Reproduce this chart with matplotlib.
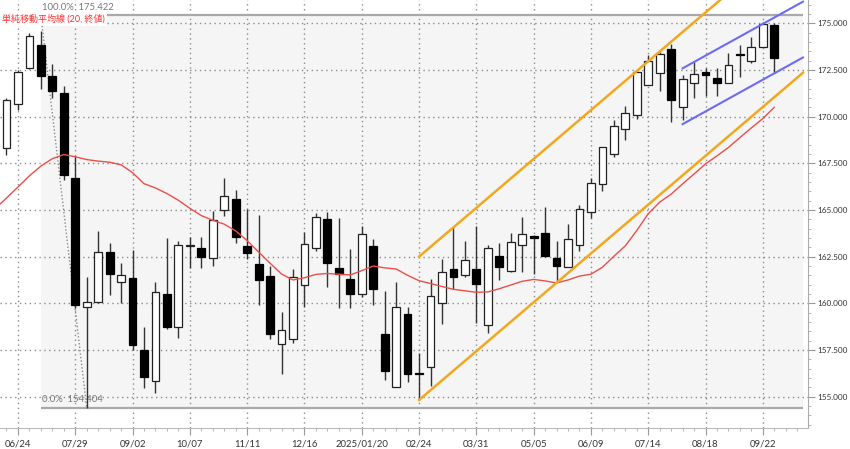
import numpy as np
import pandas as pd
import matplotlib
matplotlib.use('Agg')
import matplotlib.pyplot as plt
from matplotlib.ticker import MultipleLocator, FormatStrFormatter, FixedLocator

plt.rcParams['font.family'] = ['Lato', 'Noto Sans CJK JP', 'DejaVu Sans']

# weekly candles, week of 2024/06/17 .. 2025/09/29
weeks = pd.date_range('2024-06-17', periods=68, freq='W-MON')
opens = [168.34, 170.68, 172.62, 173.84, 172.18, 171.25, 166.70, 159.82, 160.09, 162.77,
         161.16, 161.34, 157.50, 155.84, 160.50, 158.72, 163.05, 162.95, 162.41, 165.00,
         165.57, 163.09, 162.09, 161.48, 157.82, 158.11, 160.98, 162.95, 164.50, 161.88,
         161.32, 160.48, 163.09, 158.34, 155.54, 159.43, 156.25, 156.58, 160.00, 161.82,
         161.52, 161.82, 158.84, 162.54, 161.75, 163.11, 163.60, 163.79, 162.41, 161.93,
         163.13, 164.91, 166.38, 168.00, 169.32, 170.09, 171.70, 172.36, 173.62, 170.53,
         171.82, 172.38, 172.09, 171.79, 173.34, 173.00, 173.71, 174.91]
highs = [171.00, 172.48, 174.46, 174.60, 172.80, 171.64, 167.90, 161.43, 163.89, 163.22,
         162.14, 162.86, 158.72, 161.16, 163.48, 163.36, 163.57, 163.57, 164.96, 166.71,
         166.07, 165.04, 164.73, 162.00, 159.55, 161.82, 163.84, 164.82, 164.88, 164.56,
         162.90, 164.16, 163.43, 160.68, 161.16, 159.82, 157.32, 161.29, 162.36, 164.07,
         163.34, 164.16, 163.13, 163.25, 163.79, 164.61, 163.66, 165.18, 163.36, 164.23,
         165.27, 166.70, 168.40, 169.82, 170.57, 172.41, 173.30, 173.48, 173.89, 172.23,
         172.94, 172.59, 172.62, 173.39, 173.84, 174.28, 175.09, 175.00]
lows = [167.95, 170.36, 172.54, 171.46, 171.00, 166.60, 159.75, 154.40, 160.00, 160.45,
        160.00, 157.50, 155.45, 155.18, 158.61, 158.13, 161.88, 161.88, 162.00, 164.68,
        163.25, 162.36, 159.91, 158.07, 156.20, 157.86, 159.82, 162.82, 160.89, 159.73,
        159.73, 160.36, 159.91, 155.90, 155.50, 155.80, 154.82, 155.59, 158.89, 160.75,
        161.39, 158.96, 158.39, 161.25, 161.70, 161.70, 161.57, 162.50, 161.16, 161.93,
        162.82, 164.56, 166.04, 167.86, 168.75, 169.87, 171.70, 171.37, 169.73, 169.82,
        170.98, 171.11, 171.11, 171.79, 172.14, 172.89, 173.71, 172.32]
closes = [170.89, 172.38, 174.32, 172.18, 171.39, 166.87, 159.91, 160.09, 162.77, 161.57,
          161.52, 157.77, 156.04, 160.62, 158.75, 163.13, 163.12, 162.47, 164.46, 165.77,
          163.57, 162.68, 161.25, 158.34, 158.57, 161.43, 163.16, 164.61, 162.15, 161.57,
          160.48, 163.70, 160.75, 156.38, 159.82, 156.20, 156.20, 160.39, 161.70, 161.43,
          162.32, 161.04, 162.98, 161.93, 163.30, 163.71, 163.52, 162.54, 162.00, 163.45,
          165.04, 166.43, 168.36, 169.52, 170.18, 172.38, 173.00, 173.34, 170.89, 172.00,
          172.27, 172.23, 171.82, 172.77, 173.28, 173.75, 174.96, 173.13]

# 20-week SMA as drawn, starting one week earlier (06/10)
sma20 = [165.07, 165.64, 166.23, 166.83, 167.35, 167.75, 167.97, 167.85, 167.70, 167.62,
         167.56, 167.42, 167.00, 166.41, 166.18, 165.88, 165.52, 165.09, 164.70, 164.45,
         164.24, 163.88, 163.36, 162.75, 162.15, 161.57, 161.25, 161.37, 161.55, 161.60,
         161.56, 161.52, 161.75, 162.00, 161.90, 161.84, 161.50, 161.21, 161.06, 160.90,
         160.75, 160.67, 160.59, 160.61, 160.78, 160.98, 161.18, 161.28, 161.20, 161.09,
         161.25, 161.46, 161.56, 161.93, 162.52, 163.08, 163.90, 164.80, 165.42, 165.85,
         166.40, 166.93, 167.47, 167.90, 168.35, 168.88, 169.40, 169.90, 170.50]

tick_labels = ['06/24', '07/29', '09/02', '10/07', '11/11', '12/16', '2025/01/20',
               '02/24', '03/31', '05/05', '06/09', '07/14', '08/18', '09/22']
tick_dates = ['2024-06-24', '2024-07-29', '2024-09-02', '2024-10-07', '2024-11-11',
              '2024-12-16', '2025-01-20', '2025-02-24', '2025-03-31', '2025-05-05',
              '2025-06-09', '2025-07-14', '2025-08-18', '2025-09-22']

# fibonacci retracement (07/08 high -> 08/05 low)
fib_top = 175.422
fib_bottom = 154.404
fib_start = '2024-07-08'
fib_end = '2024-08-05'

# trend channels: two points on the base line, one point on the parallel line
orange_base = [('2025-02-24', 154.82), ('2025-05-19', 161.10)]
orange_parallel = ('2025-03-17', 164.07)
blue_base = [('2025-08-04', 169.60), ('2025-09-29', 172.32)]
blue_parallel = ('2025-08-04', 172.59)

# ---------------------------------------------------------------
def pos(d):
    return weeks.get_loc(pd.Timestamp(d))

o = np.array(opens); h = np.array(highs); l = np.array(lows); c = np.array(closes)
x = np.arange(len(weeks))
x_end = len(weeks) + 1.5

fig = plt.figure(figsize=(8.5, 4.49), dpi=100)
ax = fig.add_axes([0, 21 / 449, 808 / 850, 428 / 449])
ax.set_xlim(-0.567, len(weeks) + 1.94)
ax.set_ylim(153.32, 176.25)

# fib area
fs, fe = pos(fib_start), pos(fib_end)
ax.fill_between([fs, x_end], fib_bottom, fib_top, color='#f5f5f5', lw=0, zorder=0)
ax.hlines([fib_bottom, fib_top], fs, x_end, color='#a9a9a9', lw=1.6, zorder=1)
ax.plot([fs, fe], [fib_top, fib_bottom], color='#8a8a8a', lw=1, ls=(0, (1, 1.5)), zorder=1)
ax.text(fs + 0.1, fib_top + 0.2, '100.0%%  %.3f' % fib_top, color='#777777', fontsize=6.8,
        va='bottom', ha='left')
ax.text(fs + 0.1, fib_bottom + 0.2, '0.0%%  %.3f' % fib_bottom, color='#777777', fontsize=6.8,
        va='bottom', ha='left')

# candles
ax.vlines(x, l, h, color='#333333', lw=1, zorder=3)
bot = np.minimum(o, c)
hgt = np.maximum(np.abs(c - o), 0.05)
up = c >= o
ax.bar(x[up], hgt[up], bottom=bot[up], width=0.68, facecolor='white',
       edgecolor='#222222', lw=0.9, zorder=4)
ax.bar(x[~up], hgt[~up], bottom=bot[~up], width=0.68, facecolor='black',
       edgecolor='black', lw=0.9, zorder=4)

# SMA
ax.plot(np.arange(-1, len(weeks)), sma20, color='#ec4e4a', lw=1, zorder=5)


def channel(base, par, color, lw):
    (d0, v0), (d1, v1) = base
    x0, x1 = pos(d0), pos(d1)
    slope = (v1 - v0) / (x1 - x0)
    off = par[1] - (v0 + slope * (pos(par[0]) - x0))
    xs = np.array([x0, x_end])
    ys = v0 + slope * (xs - x0)
    ax.plot(xs, ys, color=color, lw=lw, zorder=6)
    ax.plot(xs, ys + off, color=color, lw=lw, zorder=6)


channel(orange_base, orange_parallel, '#f2a81e', 1.8)
channel(blue_base, blue_parallel, '#6c6cf2', 1.5)

# axes
ax.set_axisbelow(True)
ax.yaxis.tick_right()
ax.yaxis.set_major_locator(MultipleLocator(2.5))
ax.yaxis.set_minor_locator(MultipleLocator(0.5))
ax.yaxis.set_major_formatter(FormatStrFormatter('%.3f'))
major_x = [pos(d) for d in tick_dates]
ax.xaxis.set_major_locator(FixedLocator(major_x))
ax.xaxis.set_minor_locator(FixedLocator(np.arange(0, len(weeks) + 2)))
ax.set_xticklabels(tick_labels)
ax.tick_params(which='major', length=5, color='#999999', labelcolor='#333333')
ax.tick_params(which='minor', length=2.5, color='#aaaaaa')
ax.tick_params(axis='x', which='major', labelsize=6.9, pad=3)
ax.tick_params(axis='y', which='major', labelsize=5.9, pad=2)
ax.grid(True, which='major', color='#8c8c8c', lw=1, ls=(0, (1, 2.5)))
for s in ['left', 'top']:
    ax.spines[s].set_visible(False)
ax.spines['right'].set_color('#aaaaaa')
ax.spines['bottom'].set_color('#bbbbbb')

ax.text(0.003, 1 - 19 / 428, '単純移動平均線 (20, 終値)', transform=ax.transAxes, color='#ff3333',
        fontsize=6.5, va='center', ha='left', zorder=10,
        bbox=dict(facecolor='white', edgecolor='none', pad=1.5))

fig.savefig('out.png', dpi=100)
